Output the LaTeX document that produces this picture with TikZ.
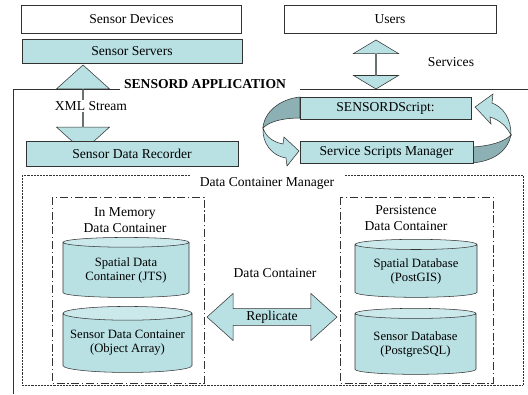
\documentclass[tikz,border=0pt]{standalone}
\usepackage{fontspec}
\setmainfont{Liberation Serif}
\usetikzlibrary{positioning,shapes.geometric,shapes.arrows}
\definecolor{boxteal}{RGB}{185,225,228}
\definecolor{ribbon}{RGB}{140,176,180}
\definecolor{lineg}{RGB}{50,50,50}

\begin{document}
\begin{tikzpicture}[
    x=0.75pt, y=-0.75pt,
    font=\fontsize{10.2}{12}\selectfont,
    box/.style={draw=lineg, fill=boxteal, inner sep=0pt, minimum height=17pt},
    wbox/.style={box, fill=white, minimum height=21pt},
    cyl/.style={cylinder, shape border rotate=90, aspect=0.12, draw=lineg,
      cylinder uses custom fill, cylinder body fill=boxteal, cylinder end fill=boxteal!75!white,
      inner sep=0pt, align=center, font=\fontsize{9.5}{10.5}\selectfont},
    darrow/.style={double arrow, draw=lineg, fill=boxteal, inner sep=0pt},
    lbl/.style={align=center, inner sep=1pt},
    ddot/.style={draw=lineg, dash pattern=on 0.5pt off 0.6pt},
    ddash/.style={draw=lineg, dash pattern=on 6pt off 2pt on 1pt off 2pt}
  ]
    \useasboundingbox (0,0) rectangle (528,394);

    % --- SENSORD APPLICATION frame ---
    \coordinate (fr) at (13,89);
    \node[lbl, font=\fontsize{10.2}{12}\selectfont\bfseries] (appl) at (205,84) {SENSORD APPLICATION};
    \draw[lineg] (13,394) -- (fr) -- ([xshift=-2pt]appl.west |- fr);
    \draw[lineg] ([xshift=9pt]appl.east |- fr) -- (528,89);

    % --- outside ---
    \node[wbox, minimum width=165pt] (dev)   at (131.5,19) {Sensor Devices};
    \node[wbox, minimum width=159pt] (users) at (390,19)   {Users};
    \node[darrow, shape border rotate=90, minimum height=64.5pt, minimum width=39.75pt,
      double arrow head extend=8.6pt, double arrow tip angle=96] (xml) at (83,108) {};
    \node[darrow, shape border rotate=90, minimum height=36.75pt, minimum width=33.75pt,
      double arrow head extend=7.5pt, double arrow tip angle=118] (svc) at (376,64.5) {};
    \node[box, minimum width=165pt, minimum height=18pt]    (srv) at (132,51)    {Sensor Servers};
    \node[box, minimum width=159pt, minimum height=18.75pt] (rec) at (132,153.5) {Sensor Data Recorder};
    \node[lbl, fill=white] (xmllbl) at (91,106) {XML Stream};
    \node[lbl] (svclbl) at (451,62) {Services};

    % --- script loop ---
    \fill[ribbon, draw=lineg] (300,97) .. controls (280,99) and (264,112) .. (263,128)
      .. controls (270,121) and (284,118) .. (300,118) -- cycle;
    \filldraw[fill=boxteal, draw=lineg] (263,128) .. controls (266,137) and (273,142) .. (283,144)
      -- (284,137) -- (299,151) -- (287,166) -- (286,158)
      .. controls (272,156) and (262,143) .. (263,128) -- cycle;
    \fill[ribbon, draw=lineg] (472,147) .. controls (490,146) and (504,142) .. (511,135)
      .. controls (508,150) and (495,161) .. (472,163) -- cycle;
    \filldraw[fill=boxteal, draw=lineg] (511,135) .. controls (511,118) and (503,107) .. (492,103)
      -- (493,94) -- (475,107) -- (491,124) -- (490,117)
      .. controls (500,120) and (507,127) .. (511,135) -- cycle;
    \node[box, minimum width=128.25pt, minimum height=16.5pt] (script) at (385.5,108) {SENSORDScript:};
    \node[box, minimum width=129.75pt, minimum height=16.5pt] (ssm)    at (386.5,152) {Service Scripts Manager};

    % --- Data Container Manager ---
    \draw[ddot] (22,175) rectangle (523,385);
    \node[lbl, fill=white, inner xsep=7pt, inner ysep=3pt] (dcm) at (267,183) {Data Container Manager};
    \draw[ddash] (52,197) rectangle (204,383);
    \draw[ddash] (340,197) rectangle (493,383);
    \node[lbl] (mem) at (125,220) {In Memory\\Data Container};
    \node[lbl] (per) at (406,218) {Persistence\\Data Container};

    \node[cyl, minimum width=94.5pt, minimum height=45pt]    (jts)  at (126,270)   {Spatial Data\\Container (JTS)};
    \node[cyl, minimum width=96.75pt, minimum height=49.5pt] (arr)  at (127.5,343) {Sensor Data Container\\(Object Array)};
    \node[cyl, minimum width=91.5pt, minimum height=43.5pt]  (gis)  at (416,271)   {Spatial Database\\(PostGIS)};
    \node[cyl, minimum width=90.75pt, minimum height=49.5pt] (pg)   at (415.5,344) {Sensor Database\\(PostgreSQL)};

    \node[lbl] (dc) at (275,273) {Data Container};
    \node[darrow, minimum height=97.5pt, minimum width=35.25pt,
      double arrow head extend=8.6pt, double arrow tip angle=84] (rep) at (272,317) {Replicate};
\end{tikzpicture}
\end{document}
